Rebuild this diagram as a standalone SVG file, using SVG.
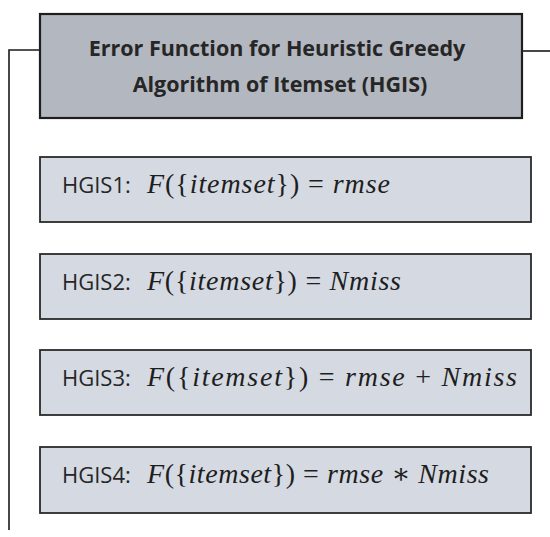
<svg xmlns="http://www.w3.org/2000/svg" width="550" height="537" viewBox="0 0 550 537">
  <style>
    .head { fill: #b3b7bf; stroke: #1e1e1e; stroke-width: 2.2; }
    .item { fill: #d5d9e2; stroke: #2a2a2a; stroke-width: 1.8; }
    .htxt { font-family: "Open Sans", "Liberation Sans", sans-serif; font-weight: bold; font-size: 21.5px; fill: #262626; text-anchor: middle; }
    .lbl { font-family: "Open Sans", "Liberation Sans", sans-serif; font-size: 22px; fill: #262626; }
    .m { font-family: "Liberation Serif", "DejaVu Serif", serif; font-size: 28px; fill: #1e1e1e; }
    .i { font-style: italic; }
    .wire { fill: none; stroke: #1a1a1a; stroke-width: 1.6; }
  </style>
  <rect width="550" height="537" fill="#ffffff"/>

  <g id="connectors">
    <polyline class="wire" points="40,50 9,50 9,530"/>
    <line class="wire" x1="522" y1="51" x2="550" y2="51"/>
  </g>

  <g id="header">
    <rect class="head" x="40" y="14" width="482" height="104"/>
    <text class="htxt" x="277" y="56">Error Function for Heuristic Greedy</text>
    <text class="htxt" x="280" y="92">Algorithm of Itemset (HGIS)</text>
  </g>

  <g id="hgis1">
    <rect class="item" x="40" y="157" width="491" height="65"/>
    <text class="lbl" x="62" y="193">HGIS1:</text>
    <text class="m" x="147" y="193" textLength="243" lengthAdjust="spacing"><tspan class="i">F</tspan>({<tspan class="i">itemset</tspan>}) = <tspan class="i">rmse</tspan></text>
  </g>

  <g id="hgis2">
    <rect class="item" x="40" y="254" width="491" height="65"/>
    <text class="lbl" x="62" y="290">HGIS2:</text>
    <text class="m" x="147" y="290" textLength="254" lengthAdjust="spacing"><tspan class="i">F</tspan>({<tspan class="i">itemset</tspan>}) = <tspan class="i">Nmiss</tspan></text>
  </g>

  <g id="hgis3">
    <rect class="item" x="40" y="350" width="491" height="65"/>
    <text class="lbl" x="62" y="386">HGIS3:</text>
    <text class="m" x="147" y="386" textLength="370" lengthAdjust="spacing"><tspan class="i">F</tspan>({<tspan class="i">itemset</tspan>}) = <tspan class="i">rmse</tspan> + <tspan class="i">Nmiss</tspan></text>
  </g>

  <g id="hgis4">
    <rect class="item" x="40" y="447" width="491" height="66"/>
    <text class="lbl" x="62" y="483">HGIS4:</text>
    <text class="m" x="147" y="483" textLength="342" lengthAdjust="spacing"><tspan class="i">F</tspan>({<tspan class="i">itemset</tspan>}) = <tspan class="i">rmse</tspan> ∗ <tspan class="i">Nmiss</tspan></text>
  </g>
</svg>
